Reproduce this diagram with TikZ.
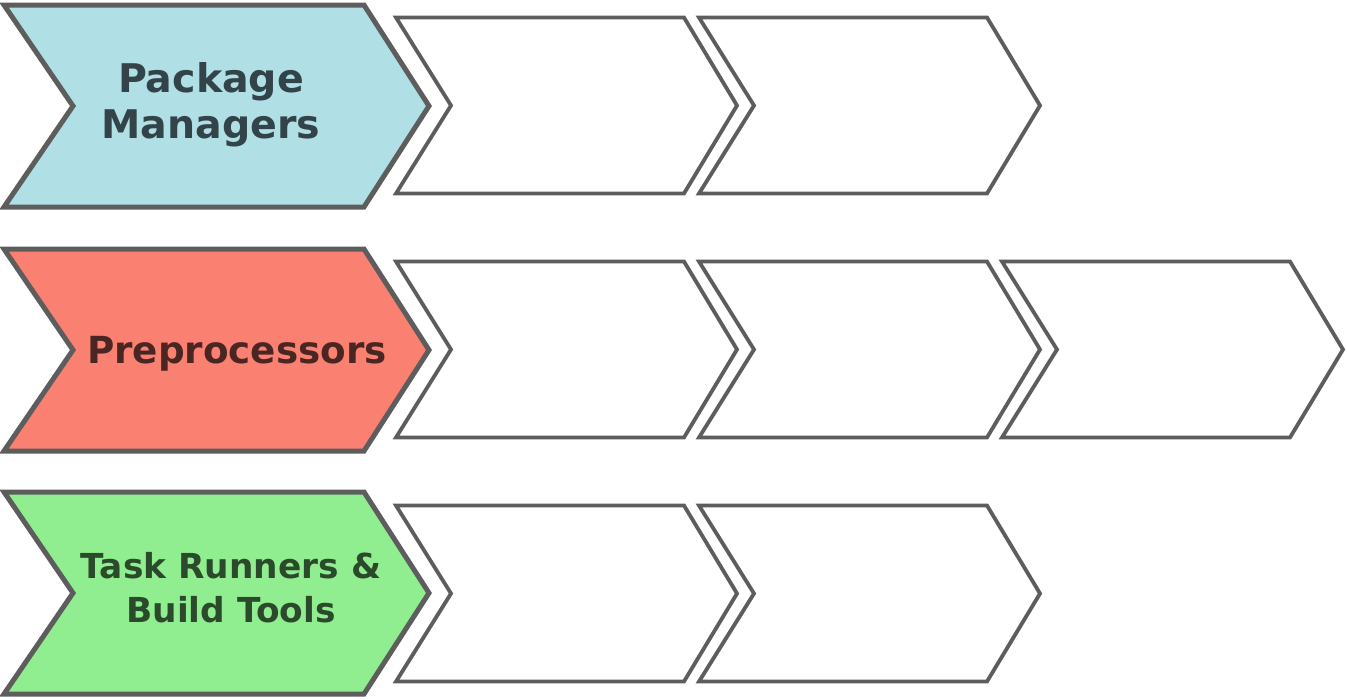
\documentclass[tikz,border=0pt]{standalone}
\usepackage{fontspec}
\setmainfont{DejaVu Sans}
\definecolor{strokegray}{HTML}{5D5D5D}
\definecolor{pblue}{HTML}{B0DFE5}
\definecolor{pbluetext}{HTML}{33434A}
\definecolor{psalmon}{HTML}{FA8072}
\definecolor{psalmontext}{HTML}{4A2622}
\definecolor{pgreen}{HTML}{90EE90}
\definecolor{pgreentext}{HTML}{2B4A2B}
\begin{document}
\begin{tikzpicture}[x=1pt,y=-1pt,
  bigchev/.style={draw=strokegray,line width=5pt,line join=miter},
  smallchev/.style={draw=strokegray,line width=3.8pt,line join=miter,fill=white},
  label/.style={font=\bfseries, align=center, inner sep=0pt}]
\useasboundingbox (0,0) rectangle (1347,699);
\newcommand{\bigchevron}[2]{% #1 = y offset, #2 = fill
  \draw[bigchev,fill=#2] (4,#1+5) -- (364,#1+5) -- (429,#1+106) -- (364,#1+207) -- (4,#1+207) -- (73,#1+106) -- cycle;}
\newcommand{\smallchevron}[2]{% #1 = x offset, #2 = y offset
  \draw[smallchev] (#1+396,#2+17.5) -- (#1+684,#2+17.5) -- (#1+737,#2+105.5) -- (#1+684,#2+193.5) -- (#1+396,#2+193.5) -- (#1+451,#2+105.5) -- cycle;}
% row 1
\bigchevron{0}{pblue}
\smallchevron{0}{0}
\smallchevron{303}{0}
% row 2
\bigchevron{244}{psalmon}
\smallchevron{0}{244}
\smallchevron{303}{244}
\smallchevron{606}{244}
% row 3
\bigchevron{487}{pgreen}
\smallchevron{0}{488}
\smallchevron{303}{488}
% labels
\node[label,text=pbluetext,font=\bfseries\fontsize{39.5}{46}\selectfont] (pm) at (211,104.5) {Package\\Managers};
\node[label,text=psalmontext,font=\bfseries\fontsize{37.3}{44}\selectfont] (pp) at (237,354) {Preprocessors};
\node[label,text=pgreentext,font=\bfseries\fontsize{34.4}{44}\selectfont] (tr) at (231,588) {Task Runners \&\\Build Tools};
\end{tikzpicture}
\end{document}
